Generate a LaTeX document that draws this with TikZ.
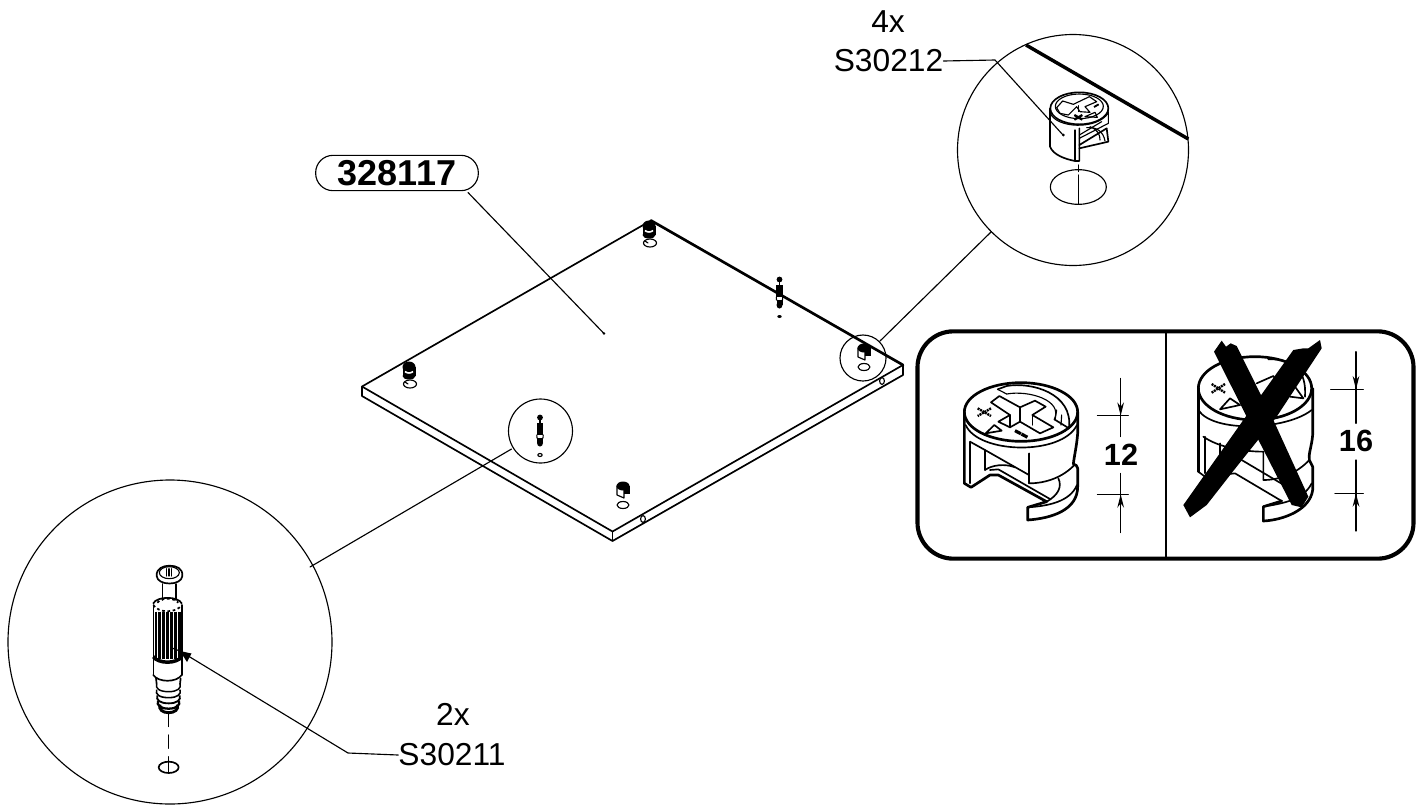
\documentclass[tikz,border=0pt]{standalone}
\usepackage{fontspec}
\setmainfont{Liberation Sans}
\usetikzlibrary{arrows.meta}
\tikzset{
  fine/.style={line width=.85pt,line cap=round,line join=round},
  med/.style={line width=1.25pt,line cap=round,line join=round},
  heavy/.style={line width=2pt,line cap=round,line join=round},
  lbl/.style={inner sep=0pt,font=\fontsize{23.8pt}{26pt}\selectfont},
  dimlbl/.style={inner sep=0pt,font=\fontsize{23pt}{26pt}\selectfont\bfseries},
  pill/.style={draw,fine,rounded corners=13pt,minimum width=122pt,minimum height=26.5pt,inner sep=0pt,font=\fontsize{27pt}{30pt}\selectfont\bfseries},
  zoomone/.style={x=.25pt,y=-.25pt},
  tip/.style={-{Stealth[length=10pt,width=5pt]},fine}
}
\begin{document}
\begin{tikzpicture}[x=.75pt,y=-.75pt]
\useasboundingbox (0,0) rectangle (1428,808);
% named points
\coordinate (plL) at (362,386.5);
\coordinate (plLb) at (362,396);
\coordinate (plT) at (651,220.5);
\coordinate (plR) at (903,365);
\coordinate (plRb) at (903,375);
\coordinate (plF) at (612.5,531.5);
\coordinate (plFb) at (612.5,541);
% plate
\draw[med] (plL)--(plT);
\draw[line width=2pt,line cap=round] (plT)--(plR);
\draw[med] (plL)--(plF)--(plR)--(plRb)--(plFb)--(plLb)--cycle;
\draw[med] (plF)--(plFb);
\foreach \p in {(643,519),(882,381)}{\draw[fine] \p ellipse (2.4 and 3.4);}
% small circles
\node[draw,fine,circle,minimum size=46pt*.75,inner sep=0pt] (c1) at (863,358) {};
\node[draw,fine,circle,minimum size=64pt*.75,inner sep=0pt] (c2) at (540.5,431) {};
\node[draw,fine,circle,minimum size=324pt*.75,inner sep=0pt] (c3) at (170,642) {};
\node[draw,fine,circle,minimum size=231pt*.75,inner sep=0pt] (c4) at (1073,150) {};
\draw[fine] (880,341)--(991.5,231.5);
\draw[fine] (511.5,449)--(310,567);
% small cams
\foreach \x/\y in {649/226,409/367}{
 \fill (\x,\y) ellipse (6.5 and 5.5);
 \fill (\x-6.5,\y)rectangle(\x+6.5,\y+9);
 \fill (\x,\y+9) ellipse (6.5 and 3.5);
 \draw[white,line width=1.2pt] (\x-4,\y+4.5) .. controls (\x-2,\y+6.5) and (\x+2,\y+6.5) .. (\x+4,\y+4.5);
 \draw[fine] (\x+1,\y+17) ellipse (6.5 and 4);
 \draw[fine] (\x-4,\y+15)--(\x-1,\y+17);
}
\foreach \x/\y in {623/490,864/352}{
 \draw[fine,fill=white] (\x-6,\y-4)--(\x-6,\y+5)--(\x+1,\y+8)--(\x+1,\y-4)--cycle;
 \fill (\x,\y-4) ellipse (6.5 and 4.5);
 \fill (\x+1,\y-4) rectangle (\x+7,\y+4);
 \draw[fine] (\x,\y+15) ellipse (6 and 3.5);
}
% small screws
\foreach \x/\y/\o in {779.5/283/1,540/421/0}{
 \fill (\x,\y-3.5) circle (2.9);
 \draw[fine] (\x,\y-1)--(\x,\y+3);
 \fill (\x-3.2,\y+2) rectangle (\x+3.2,\y+14);
 \fill (\x-3,\y+17) rectangle (\x+3,\y+22);
 \fill (\x,\y+22) ellipse (3 and 3.5);
 \draw[fine] (\x-3.2,\y+14)--(\x-3,\y+17) (\x+3.2,\y+14)--(\x+3,\y+17);
 \ifnum\o=1 \fill (\x,\y+33.5) ellipse (2.2 and 1.5);
 \else \draw[fine] (\x,\y+34) ellipse (2.2 and 1.5); \fi
}
% pill + leader
\node[pill] (pn) at (397,173) {328117};
\coordinate (pnd) at (604,333.5);
\draw[fine] (468,192.5)--(pnd);
\fill (pnd) circle (1.4);
% labels
\node[lbl] (t4x) at (888,22) {4x};
\node[lbl] (ts1) at (888.5,61) {S30212};
\node[lbl] (t2x) at (453,714) {2x};
\node[lbl] (ts2) at (452,755) {S30211};
\coordinate (j1) at (995,60);
\coordinate (d1) at (1063,135);
\draw[fine] (ts1.east)--(j1)--(d1);
% thick edge in the top circle and hole
\begin{scope}[shift={(950,30)},zoomone]
\draw[line width=2.6pt] (228,45)--(715,327);
\draw[fine] (385,471) ellipse (84 and 52);
\draw[fine] (385,405)--(385,425) (385,435)--(385,522);
\end{scope}
% top-right cam
\begin{scope}[shift={(1040,85)},zoomone]
\draw[fine] (205,80)--(205,115)--(118,160);
\draw[fine] (118,150)--(185,110);
\draw[med] (118,180)--(200,130)--(205,170)--(118,190);
\draw[fine] (140,128) .. controls (170,125) and (190,140) .. (195,168);
\draw[fine] (150,125) .. controls (175,135) and (180,150) .. (180,165);
\draw[med] (30,70)--(30,185) .. controls (40,210) and (75,222) .. (105,228)--(118,228)--(118,130);
\draw[fine] (105,135)--(105,228);
\draw[med,fill=white] (118,70) ellipse (87 and 48);
\draw[fine] (118,64) ellipse (72 and 37);
\draw[fine] (31,85) .. controls (50,130) and (170,135) .. (204,85);
\draw[fine] (50,68)--(68,48)--(100,58)--(148,35)--(170,50)--(135,65)--(150,82)--(120,80)--(110,65)--(85,90)--(60,85)--cycle;
\draw[fine] (115,62)--(115,80);
\draw[line width=1.7pt] (103,90)--(127,104) (127,90)--(103,104);
\draw[fine] (135,95)--(165,82)--(172,97)--cycle;
\draw[line width=1.4pt] (162,66)--(176,58);
\fill (70,150) circle (4.5);
\end{scope}
% big screw
\begin{scope}[shift={(130,560)},zoomone]
\draw[med] (80,48) .. controls (78,25) and (100,17) .. (118,17) .. controls (140,17) and (159,25) .. (157,48) .. controls (155,78) and (82,78) .. (80,48) -- cycle;
\draw[fine] (118,38) ellipse (30 and 18);
\foreach \i in {-9,-1,7}{\draw[fine] (118+\i,26)--(118+\i,48);}
\draw[med] (97,72)--(97,120) (137,72)--(137,120);
\draw[med] (70,135)--(70,345);
\draw[med] (155,135)--(155,345);
\draw[med] (70,130) .. controls (80,108) and (145,108) .. (155,130);
\draw[line width=1.3pt,dash pattern=on 2pt off 2pt] (70,135) .. controls (85,160) and (140,160) .. (155,135);
\draw[line width=1.3pt,dash pattern=on 2pt off 2pt] (82,128) .. controls (95,112) and (130,112) .. (145,128);
\foreach \i/\w in {78/.9,84/.5,90/.9,96/.5,102/1,108/.5,114/1,120/.5,126/1,132/.5,138/.9,144/.5,150/.8}{
 \draw[line width=\w pt] (\i,155)--(\i,298);}
\draw[line width=2.6pt] (70,290) .. controls (85,312) and (140,312) .. (155,290);
\draw[med] (70,345) .. controls (85,368) and (140,368) .. (155,345);
\foreach \yy/\xa/\xb/\w in {385/80/150/1.1,403/80/150/1.2,420/82/149/1.4,436/84/147/1.7,448/90/142/2.2}{
 \draw[line width=\w pt] (\xa,\yy-14) .. controls (\xa-5,\yy) and (\xa+8,\yy+10) .. (116,\yy+10) .. controls (\xb-8,\yy+10) and (\xb+5,\yy) .. (\xb,\yy-14);}
\draw[med] (78,355)--(80,372) (152,355)--(150,372);
\draw[fine] (116,460)--(116,500);
\draw[fine] (116,525)--(116,565);
\draw[fine] (116,590)--(116,638);
\draw[med] (116,622) ellipse (30 and 17);
\end{scope}
\coordinate (lj) at (348,753);
\coordinate (at) at (180,651);
\coordinate (ad) at (172,648);
\draw[fine] (ts2.west)--(lj)--(at);
\fill (at)--(191.5,653.5)--(187,662)--cycle;
\draw[fine] (at)--(ad);
\fill (ad) circle (1);
% panel
\node[draw,line width=3.1pt,rounded corners=27pt,minimum width=372pt,minimum height=170.5pt,inner sep=0pt] (panel) at (1165.5,445) {};
\coordinate (dvT) at (1166,332);
\coordinate (dvB) at (1166,558);
\draw[line width=1.7pt] (dvT)--(dvB);
% left cam
\begin{scope}[shift={(955,370)},zoomone]
\draw[heavy] (28,126)--(28,340)--(48,352)--(105,315)--(130,315)--(275,395)--(218,412)--(218,450) .. controls (290,445) and (368,420) .. (368,350)--(368,295) .. controls (368,288) and (362,284) .. (355,282);
\draw[heavy] (198,126) ellipse (170 and 88);
\draw[heavy] (368,126)--(368,190) .. controls (365,230) and (358,255) .. (355,282);
\draw[med] (32,165) .. controls (70,252) and (320,258) .. (366,165);
\draw[med] (45,215)--(45,340) (45,215)--(90,240)--(90,300);
\draw[med] (90,240)--(222,315) (222,250)--(222,340);
\draw[med] (90,300) .. controls (110,285) and (150,280) .. (180,292);
\draw[med] (105,300)--(130,298)--(285,387);
\draw[med] (222,340) .. controls (275,340) and (325,320) .. (358,285);
\draw[med] (310,325) .. controls (322,350) and (310,375) .. (275,395);
\draw[med] (218,412) .. controls (280,408) and (345,395) .. (366,345);
\draw[med] (133,78)--(195,112)--(240,92)--(272,110)--(232,135)--(295,172)--(255,190)--(195,155)--(165,172)--(130,155)--(165,135)--(108,97)--cycle;
\draw[fine] (195,112)--(195,155) (232,135)--(232,165) (165,135)--(165,172);
\draw[med] (128,58)--(155,48) .. controls (230,35) and (355,70) .. (342,175)--(298,148);
\draw[fine] (155,72) .. controls (220,60) and (325,90) .. (298,148);
\draw[fine] (128,58)--(155,72);
\draw[fine] (305,120)--(300,150) (320,135)--(318,165);
\draw[med] (92,190)--(118,165)--(140,182)--cycle;
\draw[line width=1.8pt,dash pattern=on 1.5pt off .6pt] (68,115)--(108,138) (108,115)--(68,138);
\draw[line width=2.4pt,dash pattern=on 5pt off .5pt] (180,182)--(218,202);
\end{scope}
% right cam, X and dimensions
\begin{scope}[shift={(920,320)},zoomone]
\draw[heavy] (835,205)--(835,455);
\draw[heavy] (1005,205) ellipse (170 and 95);
\draw[heavy] (1178,205)--(1178,345) .. controls (1175,380) and (1165,400) .. (1168,420)--(1178,440)--(1178,510) .. controls (1170,570) and (1090,600) .. (1030,603)--(1030,560)--(1085,543);
\draw[med] (855,350)--(855,460) (835,455)--(855,470)--(945,460)--(1085,543);
\draw[med] (835,270) .. controls (880,340) and (1100,330) .. (1175,270);
\draw[med] (850,350) .. controls (900,385) and (980,395) .. (1030,395)--(1030,480);
\draw[med] (900,370)--(900,440) (965,420)--(1100,500);
\draw[med] (1030,480) .. controls (1080,480) and (1130,460) .. (1168,420);
\draw[med] (1030,560) .. controls (1090,550) and (1150,540) .. (1175,490);
\draw[med] (1010,190)--(1060,168)--(1080,200);
\draw[med] (1110,230)--(1150,235)--(1125,200);
\draw[med] (1045,118) .. controls (1120,115) and (1160,150) .. (1155,230);
\draw[med] (900,268)--(930,235)--(960,255)--cycle;
\draw[line width=1.8pt,dash pattern=on 1.5pt off .6pt] (875,192)--(915,218) (915,192)--(875,218);
\fill (882,95)--(905,62)--(918,80)--(932,70)--(950,78)--(1060,300)--(1165,530)--(1145,562)--(1115,555)--(1000,330)--cycle;
\fill (1120,90)--(1150,85)--(1165,85)--(1200,60)--(1205,85)--(1070,290)--(950,440)--(860,555)--(810,592)--(790,555)--(850,470)--(970,300)--cycle;
% dims
\node[dimlbl] (d12) at (603,403) {12};
\node[dimlbl] (d16) at (1308,363) {16};
\coordinate (a1) at (602,287); \coordinate (a2) at (602,523);
\coordinate (b1) at (1308,208); \coordinate (b2) at (1308,520);
\draw[fine] (532,287)--(625,287) (532,523)--(625,523);
\draw[fine] (1232,208)--(1330,208) (1245,520)--(1330,520);
\draw[fine] (602,175)--(602,350) (602,460)--(602,638);
\draw[fine] (1308,95)--(1308,310) (1308,420)--(1308,633);
\draw[tip] (602,228)--(a1);
\draw[tip] (602,582)--(a2);
\draw[tip] (1308,150)--(b1);
\draw[tip] (1308,578)--(b2);
\end{scope}
\end{tikzpicture}
\end{document}
